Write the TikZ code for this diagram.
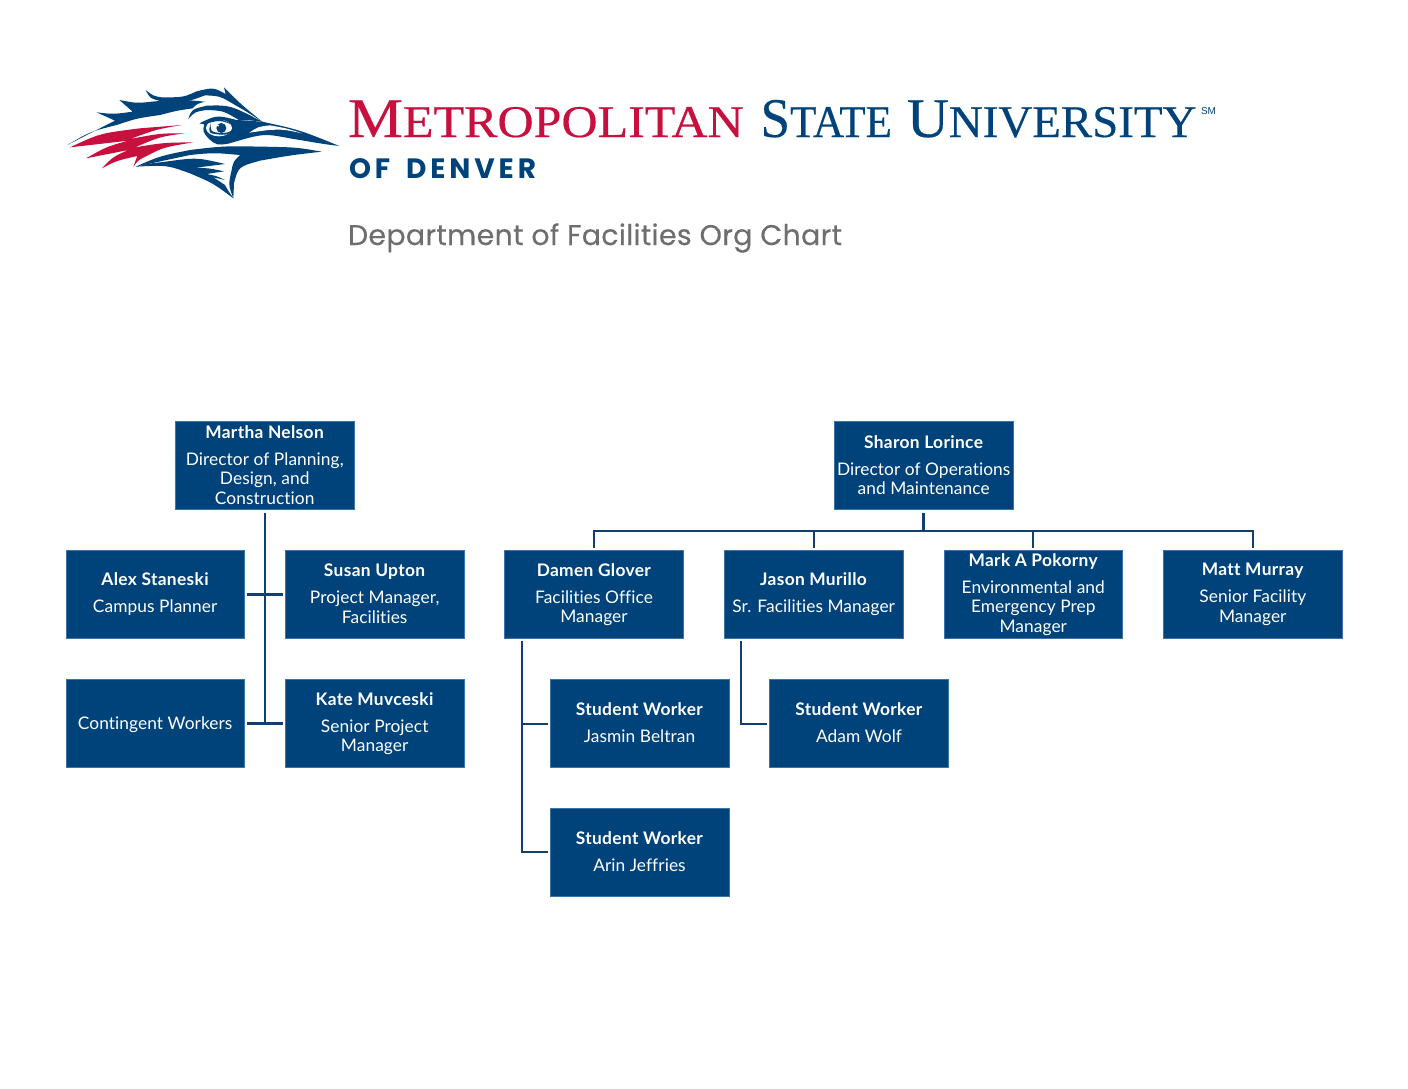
\documentclass[tikz,border=0pt]{standalone}
\usepackage{fontspec}
\setmainfont[Ligatures=NoCommon,LetterSpace=0.4,BoldFeatures={LetterSpace=2}]{Lato}
\newfontfamily\serifbrand[FakeBold=0.35]{Liberation Serif}
\newfontfamily\ofdenver[LetterSpace=14,WordSpace=1.6]{Poppins}
\newfontfamily\depttitle[FakeBold=0.3,LetterSpace=1.2]{Poppins}
\newfontfamily\smallsans{Liberation Sans}
\definecolor{msublue}{HTML}{00437A}
\definecolor{msuedge}{HTML}{3A74A8}
\definecolor{msured}{HTML}{C8103E}
\definecolor{msugray}{HTML}{6D6E70}
\definecolor{linkblue}{HTML}{123F6D}
\tikzset{
  orgbox/.style={rectangle,fill=msublue,draw=msuedge,line width=0.4pt,minimum width=178.8*0.75pt,minimum height=88.5*0.75pt,inner sep=0pt,text=white,align=center,font=\fontsize{13}{14.6}\selectfont,execute at begin node={\rule{0pt}{14pt}},execute at end node={\rule[-1pt]{0pt}{1pt}}},
  link/.style={draw=linkblue,line width=1.6pt,shorten <=2.2pt,shorten >=1.6pt},
  linkthin/.style={draw=linkblue,line width=1.5pt},
  brand/.style={anchor=base west,inner sep=0pt,outer sep=0pt},
  bluefill/.style={fill=msublue,draw=none},
  redfill/.style={fill=msured,draw=none}
}
\newcommand{\who}[1]{\textbf{#1}\\[5.7pt]}
\newcommand{\brandcaps}[2]{{\fontsize{42}{42}\selectfont #1}{\fontsize{34}{34}\selectfont #2}}
\begin{document}
\begin{tikzpicture}[x=0.75pt,y=-0.75pt]
\useasboundingbox (0,0) rectangle (1408,1088);
\fill[white] (0,0) rectangle (1408,1088);
% logo
\begin{scope}[shift={(50,70)},x=0.25pt,y=-0.25pt]
 \path[bluefill] (52,225) .. controls (110,195) .. (195,152) -- (140,127) .. controls (190,133) .. (248,125) -- (208,90) .. controls (260,100) .. (305,95)
   .. controls (390,88) .. (465,95) .. controls (440,102) .. (428,115) .. controls (380,122) .. (330,135) .. controls (260,145) .. (200,165) .. controls (120,185) .. cycle;
 \path[bluefill] (287,60) .. controls (310,78) .. (335,82) .. controls (400,82) .. (440,64) .. controls (490,52) .. (527,72) -- (522,52)
   .. controls (575,105) .. (637,155) .. controls (590,125) .. (555,105) .. controls (510,78) .. (465,76) .. controls (400,100) .. (330,93) .. controls (300,85) .. cycle;
 \path[bluefill] (415,147) .. controls (425,118) .. (470,107) .. controls (540,105) .. (637,155) .. controls (590,150) .. (570,152) .. controls (520,122) .. (470,120) .. controls (435,125) .. cycle;
 \path[bluefill] (448,160) .. controls (500,135) .. (560,150) .. controls (600,150) .. (637,155) .. controls (750,180) .. (868,228)
   .. controls (820,222) .. (720,205) .. controls (640,190) .. (535,221) .. controls (500,226) .. (476,206) .. controls (458,185) .. (463,163) -- cycle;
 \path[fill=white] (598,188) .. controls (625,170) .. (660,166) .. controls (710,175) .. (757,190) .. controls (700,178) .. (655,180) .. controls (625,182) .. cycle;
 \path[fill=white] (507,174) ellipse [x radius=39,y radius=25];
 \path[bluefill] (482,160) .. controls (474,190) .. (512,194) .. controls (535,194) .. (546,180) .. controls (535,188) .. (512,189) .. controls (482,186) .. cycle;
 \path[bluefill] (464,160) .. controls (505,142) .. (552,166) .. controls (510,150) .. (472,160) -- cycle;
 \path[bluefill] (514,174) circle [radius=15];
 \path[fill=white] (504,167) circle [radius=3];
 \path[bluefill] (257,290) .. controls (330,258) .. (420,240) .. controls (520,228) .. (640,230) .. controls (740,232) .. (815,245)
   .. controls (720,256) .. (630,272) .. controls (565,290) .. (552,340) -- (550,385) .. controls (535,345) .. (545,300) .. controls (550,275) .. (570,255)
   .. controls (490,248) .. (420,255) .. controls (340,270) .. cycle;
 \path[bluefill] (257,290) .. controls (350,285) .. (420,310) .. controls (490,340) .. (550,385) .. controls (530,355) .. (525,345) -- (490,322) -- (525,330) .. controls (500,318) .. (470,312) -- (522,304)
   .. controls (480,295) .. (437,293) -- (525,282) .. controls (440,262) .. (340,276) .. controls (300,280) .. cycle;
 \path[redfill] (60,232) .. controls (150,190) .. (270,175) -- (395,165) .. controls (320,178) .. (240,207) .. controls (330,190) .. (405,190) .. controls (330,200) .. (255,232) .. controls (340,218) .. (430,217)
   .. controls (340,232) .. (290,258) .. controls (265,270) .. (250,290) -- (262,258) .. controls (200,272) .. (155,295) .. controls (190,260) .. (235,240) .. controls (170,250) .. (108,265) .. controls (170,230) .. (235,212) .. controls (150,222) .. cycle;
\end{scope}
% wordmark
\node[brand,text=msured] (w1) at (348,137) {\scalebox{1.104}[1]{\serifbrand\brandcaps{M}{ETROPOLITAN}}};
\node[brand,text=msublue] (w2) at (760.5,137) {\scalebox{0.95}[1]{\serifbrand\brandcaps{S}{TATE}}};
\node[brand,text=msublue] (w3) at (907,137) {\scalebox{1.035}[1]{\serifbrand\brandcaps{U}{NIVERSITY}}};
\node[brand,text=msublue] (sm) at (1201,114) {\smallsans\fontsize{7.5}{7.5}\selectfont SM};
\node[brand,text=msublue] (w4) at (349,178) {\ofdenver\bfseries\fontsize{21}{21}\selectfont OF DENVER};
\node[brand,text=msugray] (title) at (348,245) {\depttitle\fontsize{21.3}{21.3}\selectfont Department of Facilities Org Chart};
% boxes
\node[orgbox] (martha) at (264.7,465.5) {\who{Martha Nelson}Director of Planning,\\Design, and\\Construction};
\node[orgbox] (alex) at (155.2,594.5) {\who{Alex Staneski}Campus Planner};
\node[orgbox] (susan) at (374.7,594.5) {\who{Susan Upton}Project Manager,\\Facilities};
\node[orgbox] (cont) at (155.2,723.5) {\raisebox{1.7pt}{Contingent Workers}};
\node[orgbox] (kate) at (374.7,723.5) {\who{Kate Muvceski}Senior Project\\Manager};
\node[orgbox] (sharon) at (923.7,465.5) {\who{Sharon Lorince}Director of Operations\\and Maintenance};
\node[orgbox] (damen) at (594,594.5) {\who{Damen Glover}Facilities Office\\Manager};
\node[orgbox] (jason) at (813.7,594.5) {\who{Jason Murillo}Sr. Facilities Manager};
\node[orgbox] (mark) at (1033.3,594.5) {\who{Mark A Pokorny}Environmental and\\Emergency Prep\\Manager};
\node[orgbox] (matt) at (1252.8,594.5) {\who{Matt Murray}Senior Facility\\Manager};
\node[orgbox] (jasmin) at (639.5,723.5) {\who{Student Worker}Jasmin Beltran};
\node[orgbox] (adam) at (859,723.5) {\who{Student Worker}Adam Wolf};
\node[orgbox] (arin) at (639.5,852.3) {\who{Student Worker}Arin Jeffries};
% connectors left
\draw[link,shorten >=-0.6pt] (martha.south) -- (martha.south |- kate.west);
\draw[link,shorten <=1.6pt] (alex.east) -- (susan.west);
\draw[link,shorten <=1.6pt] (cont.east) -- (kate.west);
% connectors right
\coordinate (bus) at (923.7,530.5);
\draw[link,shorten >=0pt,line width=2.2pt] (sharon.south) -- (bus);
\draw[linkthin,shorten <=1.6pt,shorten >=1.6pt] (damen.north) -- (damen.north |- bus) -- (matt.north |- bus) -- (matt.north);
\draw[linkthin,shorten <=1.6pt] (jason.north) -- (jason.north |- bus);
\draw[linkthin,shorten <=1.6pt] (mark.north) -- (mark.north |- bus);
\coordinate (dtrunk) at (521.5,639);
\coordinate (jtrunk) at (741.3,639);
\draw[linkthin,shorten <=1.6pt,shorten >=1.6pt] (dtrunk) -- (dtrunk |- arin.west) -- (arin.west);
\draw[linkthin,shorten >=1.6pt] (dtrunk |- jasmin.west) -- (jasmin.west);
\draw[linkthin,shorten <=1.6pt,shorten >=1.6pt] (jtrunk) -- (jtrunk |- adam.west) -- (adam.west);
\end{tikzpicture}
\end{document}
